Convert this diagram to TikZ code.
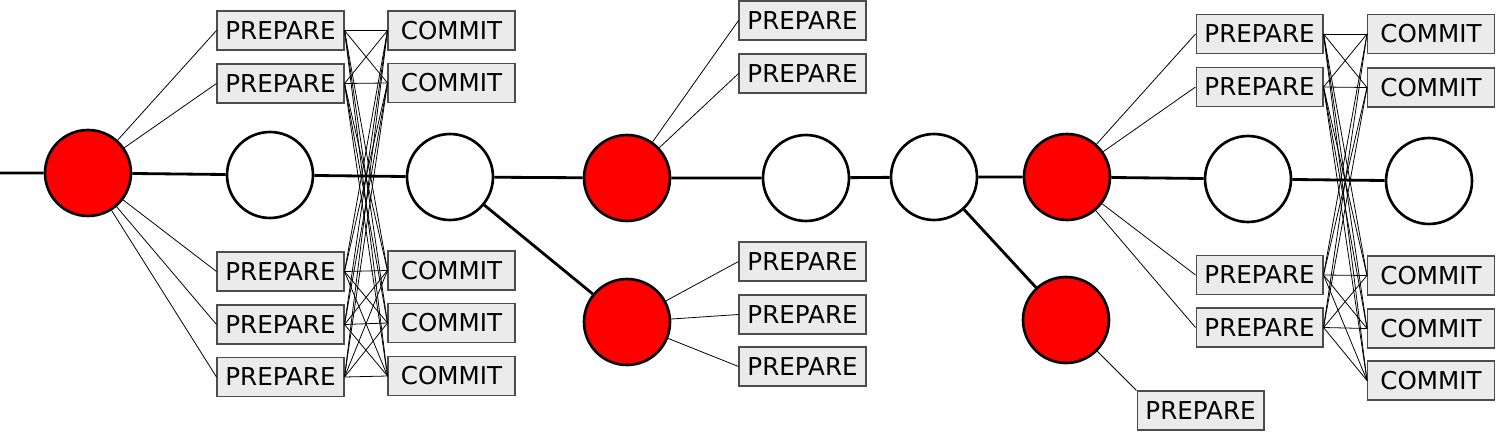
\documentclass[tikz,border=0pt]{standalone}
\usepackage{fontspec}
\setmainfont{DejaVu Sans}
\tikzset{
  txn/.style={circle,draw,line width=1.5pt,minimum size=1.72cm,inner sep=0pt,fill=white},
  lead/.style={txn,fill=red},
  msg/.style={draw=black!70,fill=black!8,line width=0.6pt,minimum width=2.54cm,minimum height=0.78cm,inner sep=0pt,font=\fontsize{14}{15}\selectfont},
  chain/.style={line width=1.6pt},
  wire/.style={line width=0.45pt}
}

\begin{document}
\begin{tikzpicture}[x=0.02cm,y=-0.02cm]
  \useasboundingbox (0,0) rectangle (1496,432);
  % rounds
  \coordinate (in) at (0,173);
  \node[lead] (r1) at (88,173) {};
  \node[txn] (w1) at (270,175) {};
  \node[txn] (w2) at (450,177) {};
  \node[lead] (r2) at (627,178) {};
  \node[lead] (r2b) at (627,322) {};
  \node[txn] (w3) at (806,178) {};
  \node[txn] (w4) at (934,177) {};
  \node[lead] (r3) at (1067,177) {};
  \node[lead] (r3b) at (1066,320) {};
  \node[txn] (w5) at (1248,179) {};
  \node[txn] (w6) at (1429,181) {};
  % messages, first round
  \node[msg] (p1) at (280.5,30.5) {PREPARE};
  \node[msg] (p2) at (280.5,83.5) {PREPARE};
  \node[msg] (p3) at (280.5,271.5) {PREPARE};
  \node[msg] (p4) at (280.5,324.5) {PREPARE};
  \node[msg] (p5) at (280.5,377) {PREPARE};
  \node[msg] (c1) at (451.5,30.5) {COMMIT};
  \node[msg] (c2) at (451.5,83) {COMMIT};
  \node[msg] (c3) at (451.5,270.5) {COMMIT};
  \node[msg] (c4) at (451.5,323) {COMMIT};
  \node[msg] (c5) at (451.5,376) {COMMIT};
  % messages, middle
  \node[msg] (q1) at (802.5,20.5) {PREPARE};
  \node[msg] (q2) at (802.5,73.5) {PREPARE};
  \node[msg] (q3) at (802.5,261.5) {PREPARE};
  \node[msg] (q4) at (802.5,314.5) {PREPARE};
  \node[msg] (q5) at (802.5,366.5) {PREPARE};
  \node[msg] (q6) at (1200.5,410.5) {PREPARE};
  % messages, last round
  \node[msg] (s1) at (1259.5,34) {PREPARE};
  \node[msg] (s2) at (1259.5,87) {PREPARE};
  \node[msg] (s3) at (1259.5,275) {PREPARE};
  \node[msg] (s4) at (1259.5,327.5) {PREPARE};
  \node[msg] (t1) at (1431,34) {COMMIT};
  \node[msg] (t2) at (1431,87.5) {COMMIT};
  \node[msg] (t3) at (1431,275.5) {COMMIT};
  \node[msg] (t4) at (1431,328.5) {COMMIT};
  \node[msg] (t5) at (1431,380.5) {COMMIT};
  % chain
  \draw[chain] (in)--(r1)--(w1)--(w2)--(r2)--(w3)--(w4)--(r3)--(w5)--(w6);
  \draw[chain] (w2)--(r2b);
  \draw[chain] (w4)--(r3b);
  % fan out
  \foreach \p in {p1,p2,p3,p4,p5}
    \draw[wire] (r1)--(\p.west);
  \foreach \p in {q1,q2}
    \draw[wire] (r2)--(\p.west);
  \foreach \p in {q3,q4,q5}
    \draw[wire] (r2b)--(\p.west);
  \draw[wire] (r3b)--(q6.north west);
  \foreach \p in {s1,s2,s3,s4}
    \draw[wire] (r3)--(\p.west);
  % all to all
  \foreach \p in {p1,p2,p3,p4,p5}
    \foreach \c in {c1,c2,c3,c4,c5}
      \draw[wire] (\p.east)--(\c.west);
  \foreach \p in {s1,s2,s3,s4}
    \foreach \c in {t1,t2,t3,t4,t5}
      \draw[wire] (\p.east)--(\c.west);
\end{tikzpicture}
\end{document}
